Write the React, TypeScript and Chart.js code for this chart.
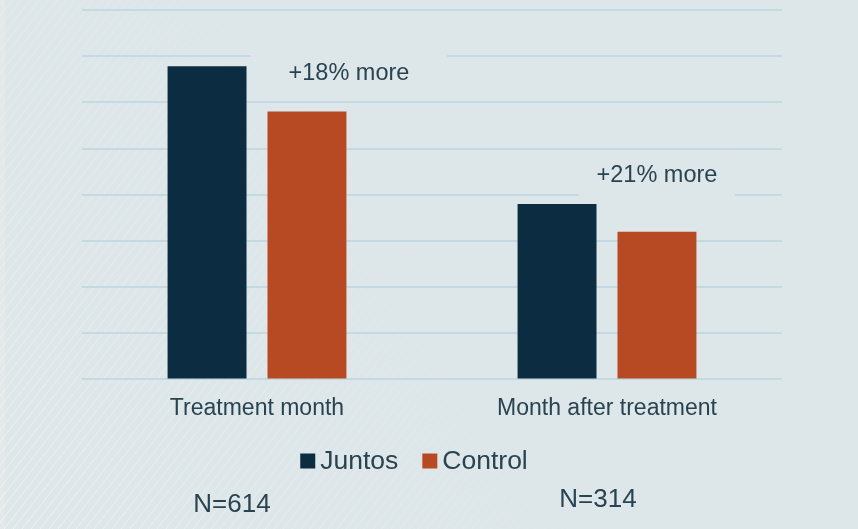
import React, { useEffect, useRef } from "react";
import { Chart, registerables } from "chart.js";
Chart.register(...registerables);

const categories = ["Treatment month", "Month after treatment"];
const juntosValues = [6.78, 3.8];
const controlValues = [5.8, 3.2];
const yMin = 0;
const yMax = 8;
const yStep = 1;
const annotationTexts = ["+18% more", "+21% more"];
const annotationValues = [6.63, 4.41];
const sampleSizes = ["N=614", "N=314"];

const FONT = '"Liberation Sans", Arial, sans-serif';
const TEXT = "#2a4351";
const BG = "#dde6e9";

const annotationDx = [42, 0];
const annotationHalfW = [98, 78];
const sampleDx = [-25, -9];
const sampleY = [505, 500];
const legendCenterDx = -18;
const legendY = 461;

const bgPlugin = {
  id: "bg",
  beforeDraw(chart: any) {
    const { ctx, width, height } = chart;
    ctx.save();
    ctx.fillStyle = BG;
    ctx.fillRect(0, 0, width, height);
    ctx.fillStyle = "#e3e8ea";
    ctx.fillRect(0, 0, 5, height);
    const g = ctx.createLinearGradient(0, height, 480, 210);
    g.addColorStop(0, "rgba(255,255,255,0.5)");
    g.addColorStop(0.5, "rgba(255,255,255,0.22)");
    g.addColorStop(1, "rgba(255,255,255,0)");
    ctx.strokeStyle = g;
    ctx.lineWidth = 1;
    const run = height / Math.tan((52 * Math.PI) / 180);
    for (let k = -500; k < 900; k += 9) {
      ctx.beginPath();
      ctx.moveTo(k, height);
      ctx.lineTo(k + run, 0);
      ctx.stroke();
    }
    ctx.restore();
  },
};

const annotPlugin = {
  id: "annot",
  afterDatasetsDraw(chart: any) {
    const { ctx } = chart;
    const y = chart.scales.y;
    const x = chart.scales.x;
    const meta = chart.getDatasetMeta(1);
    ctx.save();
    ctx.textBaseline = "middle";
    ctx.textAlign = "center";
    ctx.font = `23.5px ${FONT}`;
    annotationTexts.forEach((t, i) => {
      const bar = meta.data[i];
      const cx = bar.x + annotationDx[i];
      const cy = y.getPixelForValue(annotationValues[i]);
      ctx.fillStyle = BG;
      ctx.fillRect(cx - annotationHalfW[i], cy - 21, annotationHalfW[i] * 2, 42);
      ctx.fillStyle = TEXT;
      ctx.fillText(t, cx, cy);
    });
    ctx.font = `26px ${FONT}`;
    sampleSizes.forEach((t, i) => {
      ctx.fillText(t, x.getPixelForValue(i) + sampleDx[i], sampleY[i]);
    });

    // legend
    const box = 15;
    const gap = 5;
    const itemGap = 24;
    ctx.font = `26.5px ${FONT}`;
    const items = chart.data.datasets.map((d: any) => ({
      label: d.label,
      color: d.backgroundColor,
      w: box + gap + ctx.measureText(d.label).width,
    }));
    const total = items.reduce((s: number, it: any) => s + it.w, 0) + itemGap * (items.length - 1);
    const center = (x.getPixelForValue(0) + x.getPixelForValue(1)) / 2 + legendCenterDx;
    let cur = center - total / 2;
    ctx.textAlign = "left";
    items.forEach((it: any) => {
      ctx.fillStyle = it.color;
      ctx.fillRect(cur, legendY - box / 2, box, box);
      ctx.fillStyle = TEXT;
      ctx.fillText(it.label, cur + box + gap, legendY + 1);
      cur += it.w + itemGap;
    });
    ctx.restore();
  },
};

export default function App() {
  const ref = useRef<HTMLCanvasElement>(null);
  useEffect(() => {
    const chart = new Chart(ref.current!, {
      type: "bar",
      data: {
        labels: categories,
        datasets: [
          {
            label: "Juntos",
            data: juntosValues,
            backgroundColor: "#0c2c41",
            categoryPercentage: 0.571,
            barPercentage: 0.79,
          },
          {
            label: "Control",
            data: controlValues,
            backgroundColor: "#b84a23",
            categoryPercentage: 0.571,
            barPercentage: 0.79,
          },
        ],
      },
      options: {
        responsive: false,
        animation: false,
        layout: { padding: { left: 48, right: 76, top: 10, bottom: 92 } },
        plugins: {
          legend: { display: false },
          tooltip: { enabled: false },
        },
        scales: {
          x: {
            grid: { display: false, drawTicks: false },
            border: { display: false },
            ticks: { color: TEXT, font: { family: FONT, size: 23 }, padding: 15 },
          },
          y: {
            min: yMin,
            max: yMax,
            afterFit(s: any) {
              s.width = 34;
            },
            grid: { color: "#c4dae3", lineWidth: 2, drawTicks: false },
            border: { display: false },
            ticks: { display: false, stepSize: yStep },
          },
        },
      },
      plugins: [bgPlugin, annotPlugin],
    });
    return () => chart.destroy();
  }, []);
  return (
    <div style={{ position: "absolute", left: 0, top: 0, width: 858, height: 529 }}>
      <canvas ref={ref} width={858} height={529} />
    </div>
  );
}
